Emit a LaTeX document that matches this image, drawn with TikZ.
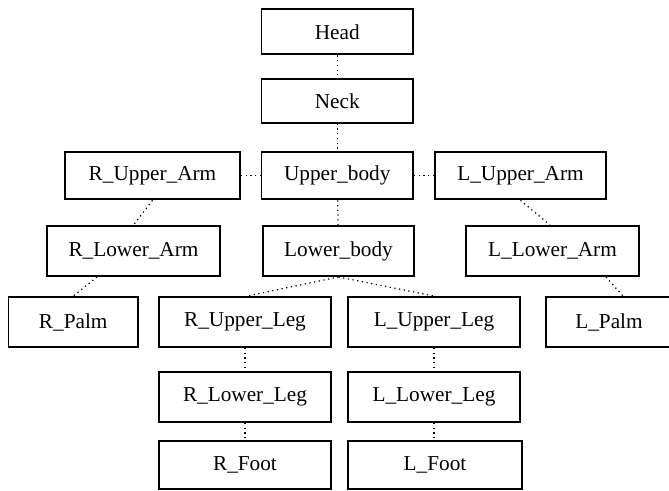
\documentclass[tikz,border=0pt]{standalone}
\usepackage{fontspec}
\setmainfont{Liberation Serif}
\usepackage{tikz}
\usetikzlibrary{positioning, calc}

\begin{document}
\begin{tikzpicture}[
    % Global styles
    font=\fontsize{12.1}{14}\selectfont,
    % Box styles
    partbox/.style={
      rectangle, draw=black, fill=white, line width=1.1pt,
      minimum width=#1, minimum height=1.0cm,
      align=center, inner sep=0pt
    },
    partbox/.default=3.44cm,
    link/.style={dotted, line width=0.7pt, color=black},
  ]
  \useasboundingbox (0,0) rectangle (13.38,-9.8);
  \clip (0,0) rectangle (13.38,-9.8);

  % ====================================================================
  % TRUNK
  % ====================================================================
  \node[partbox=3.03cm, minimum height=0.90cm] (head) at (6.745,-0.636) {Head};
  \node[partbox=3.03cm, minimum height=0.87cm] (neck) at (6.745,-2.02) {Neck};
  \node[partbox=3.03cm, minimum height=0.94cm] (upperbody) at (6.745,-3.516) {Upper\_body};
  \node[partbox=3.02cm] (lowerbody) at (6.77,-5.02) {Lower\_body};

  % ====================================================================
  % ARMS
  % ====================================================================
  \node[partbox=3.50cm, minimum height=0.94cm] (ruarm) at (3.05,-3.516) {R\_Upper\_Arm};
  \node[partbox=3.46cm] (rlarm) at (2.67,-5.02) {R\_Lower\_Arm};
  \node[partbox=2.59cm] (rpalm) at (1.465,-6.44) {R\_Palm};

  \node[partbox=3.42cm, minimum height=0.94cm] (luarm) at (10.41,-3.516) {L\_Upper\_Arm};
  \node[partbox=3.46cm] (llarm) at (11.05,-5.02) {L\_Lower\_Arm};
  \node[partbox=2.52cm] (lpalm) at (12.18,-6.44) {L\_Palm};

  % ====================================================================
  % LEGS
  % ====================================================================
  \node[partbox] (ruleg) at (4.9,-6.44) {R\_Upper\_Leg};
  \node[partbox, below=0.46cm of ruleg] (rlleg) {R\_Lower\_Leg};
  \node[partbox, minimum height=0.976cm] (rfoot) at (4.9,-9.30) {R\_Foot};

  \node[partbox] (luleg) at (8.68,-6.44) {L\_Upper\_Leg};
  \node[partbox, below=0.46cm of luleg] (llleg) {L\_Lower\_Leg};
  \node[partbox=3.47cm, minimum height=0.976cm] (lfoot) at (8.70,-9.30) {L\_Foot};

  % ------- Links -------
  \draw[link] (head) -- (neck);
  \draw[link] (neck) -- (upperbody);
  \draw[link] (upperbody) -- (lowerbody);
  \draw[link] (ruarm.east) -- (upperbody.west);
  \draw[link] (upperbody.east) -- (luarm.west);

  \draw[link] (ruarm.south) -- (rlarm.north);
  \draw[link] ([xshift=-0.73cm]rlarm.south) -- (rpalm.north);
  \draw[link] (luarm.south) -- ([xshift=-0.05cm]llarm.north);
  \draw[link] ([xshift=1.07cm]llarm.south) -- ([xshift=0.28cm]lpalm.north);

  \draw[link] (lowerbody.south) -- ([xshift=0.04cm]ruleg.north);
  \draw[link] (lowerbody.south) -- (luleg.north);
  \draw[link] (ruleg) -- (rlleg);
  \draw[link] (rlleg) -- (rfoot);
  \draw[link] (luleg) -- (llleg);
  \draw[link] (llleg.south) -- ([xshift=-0.02cm]lfoot.north);

\end{tikzpicture}
\end{document}
